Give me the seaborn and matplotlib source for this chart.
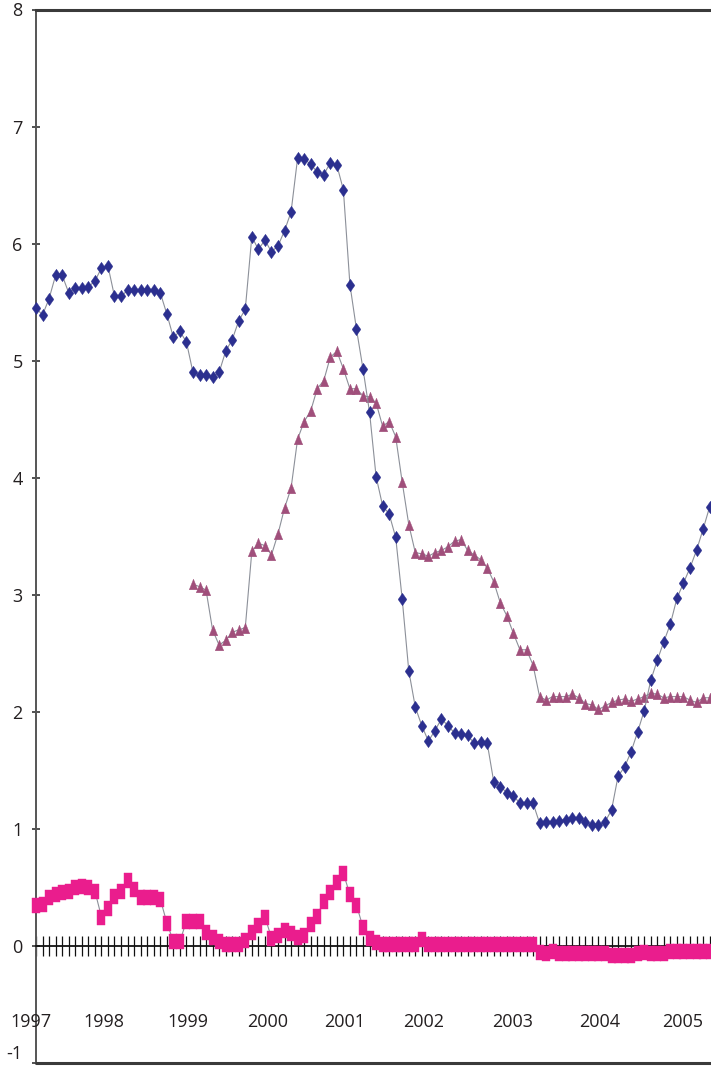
import numpy as np
import pandas as pd
import matplotlib
matplotlib.use("Agg")
import matplotlib.pyplot as plt
from matplotlib.path import Path
import seaborn as sns

# Monthly observations, January 1997 through August 2005
n_months = 104
months = np.arange(n_months)

# Diamonds series (whole period)
usd_rate = [
    5.45, 5.39, 5.53, 5.73, 5.73, 5.58, 5.62, 5.62, 5.63, 5.68, 5.79, 5.81,
    5.55, 5.55, 5.60, 5.60, 5.60, 5.60, 5.60, 5.58, 5.40, 5.20, 5.25, 5.16,
    4.90, 4.88, 4.88, 4.86, 4.90, 5.08, 5.18, 5.34, 5.44, 6.06, 5.95, 6.03,
    5.93, 5.98, 6.11, 6.27, 6.73, 6.72, 6.68, 6.61, 6.59, 6.69, 6.67, 6.46,
    5.65, 5.27, 4.93, 4.56, 4.01, 3.76, 3.69, 3.49, 2.96, 2.35, 2.04, 1.88,
    1.75, 1.84, 1.94, 1.88, 1.82, 1.81, 1.80, 1.73, 1.74, 1.73, 1.40, 1.36,
    1.31, 1.28, 1.22, 1.22, 1.22, 1.05, 1.06, 1.06, 1.07, 1.08, 1.09, 1.09,
    1.06, 1.03, 1.03, 1.06, 1.16, 1.45, 1.53, 1.66, 1.83, 2.01, 2.27, 2.44,
    2.60, 2.75, 2.97, 3.10, 3.23, 3.38, 3.56, 3.75,
]

# Triangles series (starts January 1999)
eur_start = 24
eur_rate = [
    3.09, 3.07, 3.04, 2.70, 2.57, 2.61, 2.68, 2.70, 2.72, 3.37, 3.44, 3.42,
    3.34, 3.52, 3.74, 3.91, 4.33, 4.48, 4.57, 4.76, 4.83, 5.03, 5.08, 4.93,
    4.76, 4.76, 4.70, 4.69, 4.64, 4.44, 4.48, 4.35, 3.96, 3.60, 3.36, 3.35,
    3.33, 3.36, 3.38, 3.41, 3.46, 3.47, 3.38, 3.34, 3.30, 3.23, 3.11, 2.93,
    2.82, 2.67, 2.53, 2.53, 2.40, 2.13, 2.10, 2.13, 2.13, 2.13, 2.15, 2.12,
    2.07, 2.06, 2.02, 2.05, 2.08, 2.10, 2.11, 2.09, 2.11, 2.13, 2.16, 2.15,
    2.12, 2.13, 2.13, 2.13, 2.10, 2.08, 2.12, 2.12,
]

# Squares series (whole period)
jpy_rate = [
    0.35, 0.36, 0.42, 0.44, 0.46, 0.47, 0.50, 0.51, 0.50, 0.47, 0.25, 0.32,
    0.43, 0.47, 0.56, 0.49, 0.42, 0.42, 0.42, 0.40, 0.20, 0.04, 0.04, 0.21,
    0.21, 0.21, 0.12, 0.08, 0.04, 0.02, 0.02, 0.02, 0.05, 0.12, 0.18, 0.25,
    0.07, 0.09, 0.14, 0.11, 0.08, 0.09, 0.19, 0.26, 0.38, 0.46, 0.55, 0.62,
    0.44, 0.35, 0.16, 0.07, 0.03, 0.02, 0.02, 0.02, 0.02, 0.02, 0.02, 0.06,
    0.02, 0.02, 0.02, 0.02, 0.02, 0.02, 0.02, 0.02, 0.02, 0.02, 0.02, 0.02,
    0.02, 0.02, 0.02, 0.02, 0.02, -0.05, -0.06, -0.04, -0.06, -0.06, -0.06, -0.06,
    -0.06, -0.06, -0.06, -0.06, -0.08, -0.08, -0.08, -0.08, -0.06, -0.05, -0.06, -0.06,
    -0.06, -0.04, -0.04, -0.04, -0.04, -0.04, -0.04, -0.04,
]

year_labels = ["1997", "1998", "1999", "2000", "2001", "2002", "2003", "2004", "2005"]
year_label_month = [-0.7, 10.4, 23.2, 35.4, 47.2, 59.2, 72.9, 86.2, 98.9]
y_ticks = list(range(-1, 9))

usd_df = pd.DataFrame({"month": months, "rate": usd_rate})
eur_df = pd.DataFrame({"month": months[eur_start:], "rate": eur_rate})
jpy_df = pd.DataFrame({"month": months, "rate": jpy_rate})

sns.set_theme(style="white")
plt.rcParams["font.family"] = ["Open Sans", "DejaVu Sans"]


def polygon(points):
    pts = list(points) + [points[0]]
    codes = [Path.MOVETO] + [Path.LINETO] * (len(points) - 1) + [Path.CLOSEPOLY]
    return Path(pts, codes)


tall_diamond = polygon([(0, 0.5), (0.35, 0), (0, -0.5), (-0.35, 0)])
tall_triangle = polygon([(0, 0.5), (0.40, -0.5), (-0.40, -0.5)])
tall_square = polygon([(-0.28, -0.5), (0.28, -0.5), (0.28, 0.5), (-0.28, 0.5)])

fig = plt.figure(figsize=(7.11, 10.68), dpi=100)
ax = fig.add_axes([36 / 711, 5 / 1068, 675 / 711, 1053.5 / 1068])

line_gray = "#8c9099"
series = [
    (jpy_df, tall_square, "#ea1d8d", 10.8, 3.0),
    (eur_df, tall_triangle, "#a04f7b", 7.6, 3.2),
    (usd_df, tall_diamond, "#2b2f8f", 8.9, 3.4),
]
for df, mk, col, ms, z in series:
    sns.lineplot(
        data=df, x="month", y="rate", ax=ax,
        color=line_gray, linewidth=0.8,
        marker=mk, markersize=ms,
        markerfacecolor=col, markeredgecolor=col, markeredgewidth=0.3,
        zorder=z, clip_on=False,
    )

ax.set_xlim(0, 675 / 6.54)
ax.set_ylim(-1, 8)

# zero line carries the monthly ticks
ax.spines["bottom"].set_position(("data", 0))
ax.spines["bottom"].set_color("#111111")
ax.spines["bottom"].set_linewidth(1.3)
ax.spines["bottom"].set_zorder(2.5)
ax.spines["right"].set_visible(False)
ax.spines["top"].set_color("#3a3a3a")
ax.spines["top"].set_linewidth(2.2)
ax.spines["left"].set_color("#555555")
ax.spines["left"].set_linewidth(1.4)
ax.axhline(-1, color="#3a3a3a", linewidth=2.2, clip_on=False, zorder=4)

ax.set_xticks(months)
ax.set_xticklabels([])
ax.tick_params(axis="x", direction="inout", length=14.5, width=0.9,
               color="#111111", bottom=True)
ax.set_yticks(y_ticks)
ax.set_yticklabels([str(t) for t in y_ticks])
ax.tick_params(axis="y", direction="inout", length=6.2, width=1.2,
               color="#333333", left=True, pad=6.5, labelsize=13,
               labelcolor="#231f20")
# keep the lowest label inside the figure
ax.get_yticklabels()[0].set_verticalalignment("bottom")
ax.set_xlabel("")
ax.set_ylabel("")
ax.grid(False)

for pos, lab in zip(year_label_month, year_labels):
    ax.text(pos, -0.65, lab, ha="center", va="center", fontsize=13,
            color="#231f20", clip_on=False)

fig.savefig("out.png", dpi=100)
